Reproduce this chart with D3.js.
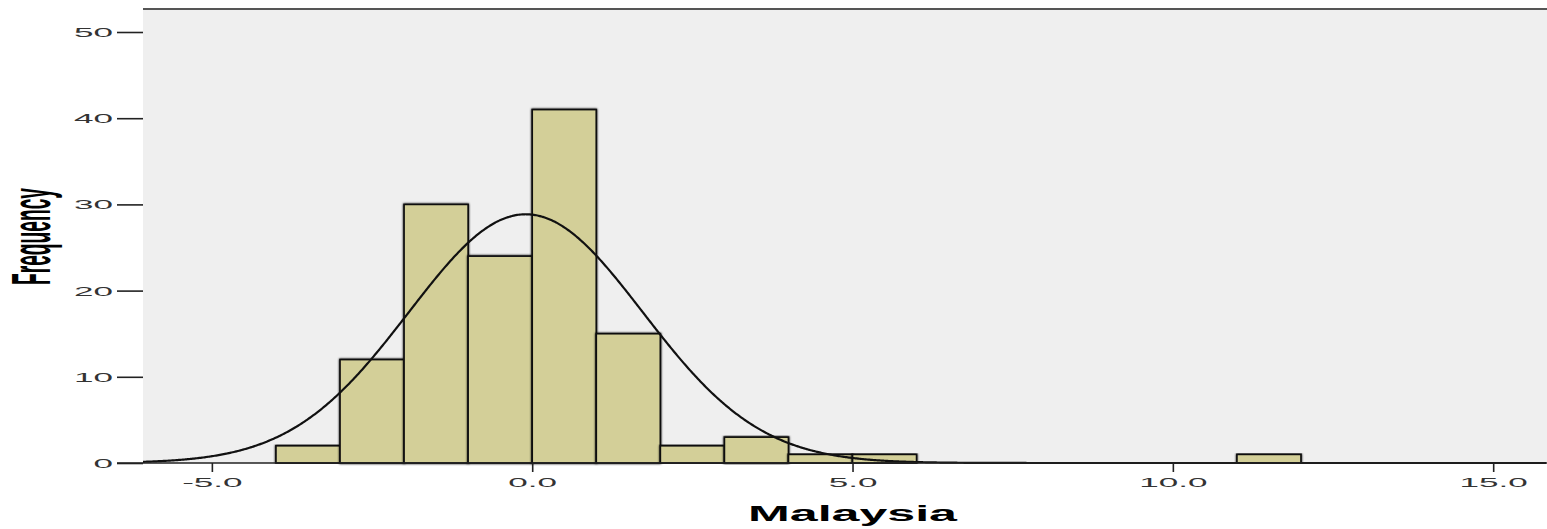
<!DOCTYPE html>
<html>
<head>
<meta charset="utf-8">
<script src="https://cdn.jsdelivr.net/npm/d3@7"></script>
<style>
  html, body { margin: 0; padding: 0; background: #ffffff; }
  svg { display: block; }
</style>
</head>
<body>
<svg id="chart" width="1547" height="529"></svg>
<script>
// ---- data ----
const binLower = [-4, -3, -2, -1, 0, 1, 2, 3, 4, 5, 11];
const counts   = [2, 12, 30, 24, 41, 15, 2, 3, 1, 1, 1];
const binWidth = 1;
const yTicks = [0, 10, 20, 30, 40, 50];
const xTicks = [-5, 0, 5, 10, 15];
const curveMean = -0.10;
const curveSD = 1.825;
const xTitle = "Malaysia";
const yTitle = "Frequency";

// ---- layout ----
const W = 1547, H = 529;
const plotLeft = 143, plotTop = 9, plotRight = 1547, baseY = 463;

const svg = d3.select("#chart");
const x = d3.scaleLinear().domain([-6.075, 15.84]).range([plotLeft, plotRight]);
const y = d3.scaleLinear().domain([0, 50]).range([baseY, 32]);

const defs = svg.append("defs");
const f = defs.append("filter").attr("id", "sh").attr("x", "-20%").attr("y", "-5%").attr("width", "140%").attr("height", "110%");
f.append("feGaussianBlur").attr("in", "SourceAlpha").attr("stdDeviation", 1.3).attr("result", "b");
const fm = f.append("feMerge");
fm.append("feMergeNode").attr("in", "b");
fm.append("feMergeNode").attr("in", "SourceGraphic");

// plot background
svg.append("rect").attr("x", plotLeft).attr("y", plotTop)
  .attr("width", plotRight - plotLeft).attr("height", baseY - plotTop)
  .attr("fill", "#efefef");

// bars
const total = d3.sum(counts);
svg.append("g").selectAll("rect").data(binLower).join("rect")
  .attr("x", d => x(d))
  .attr("y", (d, i) => y(counts[i]))
  .attr("width", d => x(d + binWidth) - x(d))
  .attr("height", (d, i) => y(0) - y(counts[i]))
  .attr("fill", "#d3cf98")
  .attr("stroke", "#111")
  .attr("stroke-width", 1.7)
  .attr("filter", "url(#sh)");

// normal curve
const norm = v => total * binWidth / (curveSD * Math.sqrt(2 * Math.PI)) *
  Math.exp(-0.5 * Math.pow((v - curveMean) / curveSD, 2));
const xs = d3.range(x.domain()[0], x.domain()[1], 0.02);
svg.append("path")
  .datum(xs)
  .attr("d", d3.line().x(d => x(d)).y(d => y(norm(d))).curve(d3.curveBasis))
  .attr("fill", "none").attr("stroke", "#111").attr("stroke-width", 2.2);

// top frame
svg.append("line").attr("x1", plotLeft).attr("x2", plotRight).attr("y1", plotTop).attr("y2", plotTop)
  .attr("stroke", "#555").attr("stroke-width", 2);

// y axis
const yAxis = svg.append("g").attr("transform", `translate(${plotLeft},0)`)
  .call(d3.axisLeft(y).tickValues(yTicks).tickSize(26).tickPadding(4).tickFormat(d3.format("d")));
yAxis.select(".domain").remove();
yAxis.selectAll(".tick line").attr("stroke", "#222").attr("stroke-width", 1.6);
yAxis.selectAll(".tick text").each(function () {
  const t = d3.select(this);
  const xx = +t.attr("x");
  t.attr("x", null).attr("dy", null)
    .attr("transform", `translate(${xx},4.5) scale(2.7,1)`)
    .attr("font-family", "Liberation Sans, Arial, sans-serif")
    .attr("font-size", 13).attr("fill", "#333");
});
svg.append("line").attr("x1", plotLeft).attr("x2", plotLeft).attr("y1", plotTop - 1).attr("y2", baseY)
  .attr("stroke", "#222").attr("stroke-width", 3).attr("filter", "url(#sh)");

// x axis
const xAxis = svg.append("g").attr("transform", `translate(0,${baseY})`)
  .call(d3.axisBottom(x).tickValues(xTicks).tickSize(9).tickPadding(4).tickFormat(d3.format(".1f")));
xAxis.select(".domain").remove();
xAxis.selectAll(".tick line").attr("stroke", "#222").attr("stroke-width", 1.6);
xAxis.selectAll(".tick text").each(function () {
  const t = d3.select(this);
  t.attr("y", null).attr("dy", null)
    .attr("transform", `translate(0,24) scale(2.7,1)`)
    .attr("font-family", "Liberation Sans, Arial, sans-serif")
    .attr("font-size", 13).attr("fill", "#333").text(d => d3.format(".1f")(d).replace("−", "-"));
});
svg.append("line").attr("x1", 117).attr("x2", plotRight).attr("y1", baseY).attr("y2", baseY)
  .attr("stroke", "#222").attr("stroke-width", 1.6);

// titles
svg.append("text")
  .attr("x", 852.5).attr("y", 521)
  .attr("text-anchor", "middle")
  .attr("font-family", "Liberation Sans, Arial, sans-serif")
  .attr("font-weight", "bold").attr("font-size", 22).attr("fill", "#000")
  .attr("textLength", 209).attr("lengthAdjust", "spacingAndGlyphs")
  .text(xTitle);

svg.append("text")
  .attr("transform", `translate(50,236.5) rotate(-90) scale(1,2.9)`)
  .attr("text-anchor", "middle")
  .attr("font-family", "Liberation Sans, Arial, sans-serif")
  .attr("font-weight", "bold").attr("font-size", 19).attr("fill", "#000")
  .attr("textLength", 97).attr("lengthAdjust", "spacingAndGlyphs")
  .text(yTitle);
</script>
</body>
</html>
